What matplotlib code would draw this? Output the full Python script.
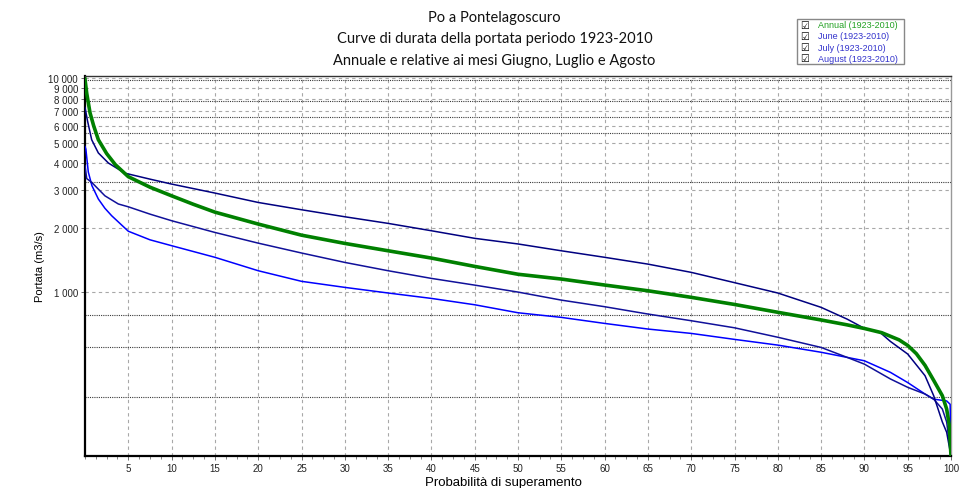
import matplotlib
matplotlib.use("Agg")
import matplotlib.pyplot as plt
from matplotlib.patches import Rectangle
from matplotlib.ticker import FixedLocator, MultipleLocator, NullLocator

# ---------------- data ----------------
annual_x = [0, 0.2, 0.58, 1.0, 1.54, 2.5, 3.5, 5, 7.5, 10, 12.5, 15, 20, 25, 30, 35, 40, 45, 50,
            55, 60, 65, 70, 75, 80, 85, 88, 90, 92, 94, 95, 96, 97, 98, 99, 99.5, 99.8, 100]
annual_y = [9900, 8500, 6900, 6000, 5165, 4450, 3950, 3470, 3100, 2825, 2580, 2370, 2085, 1850,
            1693, 1564, 1446, 1322, 1215, 1154, 1082, 1017, 948, 878, 807, 743, 705, 678, 648,
            600, 565, 517, 456, 388, 329, 285, 240, 172]

june_x = [0, 0.3, 0.77, 1.54, 2.7, 4.6, 7.5, 10, 15, 20, 25, 30, 35, 40, 45, 50, 55, 60, 65, 70,
          75, 80, 85, 88, 90, 91.8, 93, 95, 97, 98, 99, 99.5, 100]
june_y = [7300, 6300, 5165, 4480, 4020, 3605, 3380, 3205, 2910, 2630, 2432, 2255, 2100, 1940,
          1788, 1683, 1564, 1458, 1355, 1240, 1110, 993, 851, 750, 679, 650, 590, 515, 408, 329,
          248, 222, 172]

july_x = [0, 0.2, 0.77, 2.3, 3.85, 5, 7.5, 10, 15, 20, 25, 30, 35, 40, 45, 50, 55, 60, 65, 70, 75,
          80, 85, 88, 90, 93, 95, 97, 98, 99, 99.5, 100]
july_y = [3900, 3400, 3265, 2825, 2587, 2510, 2320, 2161, 1905, 1698, 1527, 1380, 1262, 1162, 1081,
          1003, 920, 857, 792, 737, 683, 617, 553, 497, 462, 394, 360, 335, 317, 285, 248, 172]

august_x = [0, 0.1, 0.38, 0.8, 1.54, 2.3, 3.08, 5, 7.5, 10, 15, 20, 25, 30, 35, 40, 45, 50, 55, 60,
            65, 70, 75, 80, 85, 90, 93, 95, 97, 98, 99.5, 99.9, 100]
august_y = [4800, 4670, 3650, 3150, 2730, 2470, 2280, 1930, 1760, 1652, 1458, 1262, 1126, 1055, 993,
            937, 875, 803, 764, 716, 674, 643, 603, 567, 525, 479, 423, 379, 335, 317, 311, 300, 172]

reference_levels = [9840, 7850, 6580, 5550, 3290, 783, 553, 325]

y_ticks = [1000, 2000, 3000, 4000, 5000, 6000, 7000, 8000, 9000, 10000]
y_labels = ["1 000", "2 000", "3 000", "4 000", "5 000", "6 000", "7 000", "8 000", "9 000", "10 000"]
x_ticks = list(range(5, 101, 5))

legend_labels = ["Annual (1923-2010)", "June (1923-2010)", "July (1923-2010)", "August (1923-2010)"]
title_lines = ["Po a Pontelagoscuro",
               "Curve di durata della portata periodo 1923-2010",
               "Annuale e relative ai mesi Giugno, Luglio e Agosto"]

# ---------------- figure ----------------
fig = plt.figure(figsize=(9.73, 4.89), dpi=100)
ax = fig.add_axes([85 / 973, 1 - 457 / 489, (951 - 85) / 973, (457 - 77) / 489])
ax.set_yscale("log")
ax.set_xlim(0, 100)
ax.set_ylim(172, 10250)

# grid
for xv in x_ticks[:-1]:
    ax.axvline(xv, color="#a8a8a8", lw=0.8, ls=(0, (3, 3)), zorder=1)
for yv in y_ticks:
    ax.axhline(yv, color="#a8a8a8", lw=0.8, ls=(0, (3, 3)), zorder=1)
for yv in reference_levels:
    ax.axhline(yv, color="#3a3a3a", lw=0.8, ls=(0, (1, 1)), zorder=1)

# curves
ax.plot(august_x, august_y, color="#0000ff", lw=1.1, zorder=3)
ax.plot(july_x, july_y, color="#10109a", lw=1.1, zorder=3)
ax.plot(june_x, june_y, color="#000080", lw=1.1, zorder=3)
ax.plot(annual_x, annual_y, color="#008000", lw=2.6, zorder=4)

# ticks
ax.yaxis.set_major_locator(FixedLocator(y_ticks))
ax.yaxis.set_minor_locator(NullLocator())
ax.set_yticklabels(y_labels)
ax.xaxis.set_major_locator(FixedLocator(x_ticks))
ax.xaxis.set_minor_locator(MultipleLocator(1.25))
for lab in ax.get_xticklabels() + ax.get_yticklabels():
    lab.set_fontfamily("Liberation Sans")
    lab.set_fontsize(7)
    lab.set_color("#222222")
ax.tick_params(axis="both", which="major", length=3, width=0.6, color="#555555", pad=2)
ax.tick_params(axis="x", which="minor", length=2, width=0.5, color="#555555")

# spines
ax.spines["left"].set_linewidth(1.6)
ax.spines["bottom"].set_linewidth(1.6)
ax.spines["left"].set_color("black")
ax.spines["bottom"].set_color("black")
ax.spines["top"].set_color("#333333")
ax.spines["top"].set_linewidth(1.0)
ax.spines["right"].set_color("#999999")
ax.spines["right"].set_linewidth(1.0)

ax.set_ylabel("Portata (m3/s)", family="Liberation Sans", fontsize=8)
ax.yaxis.set_label_coords(-40 / 866, 0.5)
ax.set_xlabel("Probabilità di superamento", family="Liberation Sans", fontsize=9.5)
ax.xaxis.set_label_coords((503 - 85) / 866, -20 / 380)

# title
for i, line in enumerate(title_lines):
    fig.text(494.5 / 973, 1 - (18 + 21.5 * i) / 489, line, ha="center", va="center",
             family="Lato", fontsize=10.5, color="#111111")

# legend (checkbox style)
fig.patches.append(Rectangle((797 / 973, 1 - 65 / 489), 107 / 973, 45 / 489,
                             transform=fig.transFigure, facecolor="white",
                             edgecolor="#888888", lw=1.0))
legend_colors = ["#22a022", "#3333cc", "#3333cc", "#3333cc"]
for i, (lab, col) in enumerate(zip(legend_labels, legend_colors)):
    yy = 25.7 + 11.2 * i
    fig.text(805 / 973, 1 - yy / 489, "\u2611", ha="center", va="center",
             family="DejaVu Sans", fontsize=7, color="black")
    fig.text(818 / 973, 1 - yy / 489, lab, ha="left", va="center",
             family="Liberation Sans", fontsize=6.5, color=col)

fig.savefig("out.png", dpi=100)
